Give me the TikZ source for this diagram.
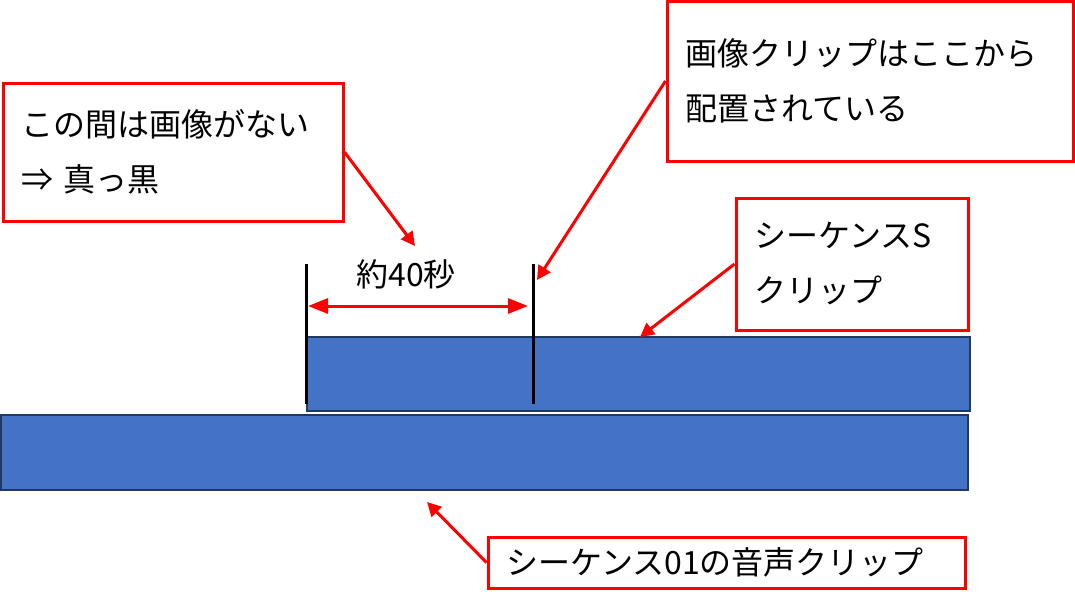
\documentclass[tikz,border=0pt]{standalone}
\usepackage{fontspec}
\newfontfamily\jpfont{Noto Sans CJK JP}
\usetikzlibrary{arrows.meta}
\definecolor{clipblue}{HTML}{4472C4}
\definecolor{clipedge}{HTML}{1F3864}
\begin{document}
\begin{tikzpicture}[x=0.5pt,y=-0.5pt,
	note/.style={draw=red,line width=1.5pt,align=left,inner xsep=9pt,
		font=\jpfont\fontsize{16}{27.5}\selectfont},
	clip/.style={draw=clipedge,fill=clipblue,line width=1pt,inner sep=0pt},
	pointer/.style={red,line width=1.5pt,-{Triangle[length=7pt,width=7pt]}}]
	\useasboundingbox (0,0) rectangle (1075,591);
	%clips
	\node[clip,minimum width=331.5pt,minimum height=37pt] (seqclip) at (638.5,374) {};
	\node[clip,minimum width=483.5pt,minimum height=37.5pt] (audioclip) at (484.5,452.5) {};
	%marks
	\coordinate (ml) at (306,264);
	\coordinate (mr) at (533,264);
	\foreach \p in {ml,mr}
	\draw[line width=1.5pt] (\p)--++(0,140);
	\draw[red,line width=1.5pt,{Triangle[length=10pt,width=7.5pt]}-{Triangle[length=10pt,width=7.5pt]}] (308,306)--(528,306);
	\node[font=\jpfont\fontsize{16}{20}\selectfont] (span) at (406,274) {約40秒};
	%notes
	\node[note,minimum width=170pt,minimum height=69pt,text width=152pt] (gap) at (173,152) {この間は画像がない\\⇒ 真っ黒};
	\node[note,minimum width=203pt,minimum height=80pt,text width=185pt] (start) at (870,81) {画像クリップはここから\\配置されている};
	\node[note,minimum width=116pt,minimum height=66pt,text width=98pt] (seqnote) at (852,264) {シーケンスS\\クリップ};
	\node[note,minimum width=238.5pt,minimum height=25.5pt,text width=220.5pt] (audionote) at (726.5,562.5) {シーケンス01の音声クリップ};
	%pointers
	\coordinate (gaptip) at (415,246);
	\coordinate (starttip) at (537,280);
	\coordinate (seqtip) at (640,337);
	\coordinate (audiotip) at (427,502);
	\draw[pointer] (gap.east)--(gaptip);
	\draw[pointer] (start.west)--(starttip);
	\draw[pointer] (seqnote.west)--(seqtip);
	\draw[pointer] (audionote.west)--(audiotip);
\end{tikzpicture}
\end{document}
